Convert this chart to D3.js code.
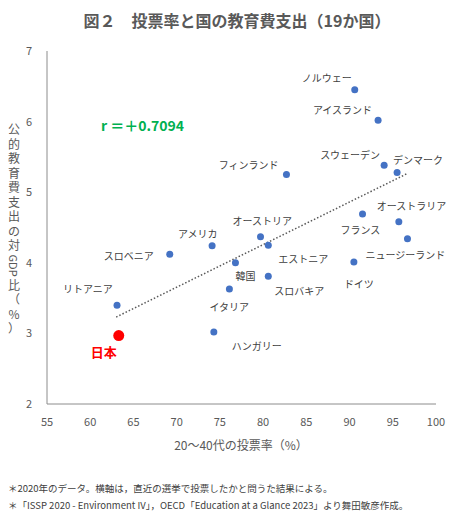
<!DOCTYPE html>
<html><head><meta charset="utf-8">
<script src="https://cdn.jsdelivr.net/npm/d3@7"></script>
<style>body{margin:0;background:#fff}text{font-family:"Noto Sans CJK JP","Noto Sans",sans-serif}</style>
</head><body><svg id="c" width="463" height="520"></svg>
<script>
const countries=["ノルウェー","アイスランド","スウェーデン","デンマーク","フィンランド","オーストラリア","フランス","ニュージーランド","ドイツ","オーストリア","アメリカ","エストニア","韓国","スロバキア","イタリア","スロベニア","リトアニア","ハンガリー","日本"];
const turnout=[90.6,93.3,94.0,95.5,82.7,95.7,91.5,96.7,90.5,79.7,74.1,80.6,76.8,80.6,76.1,69.2,63.1,74.3,63.3];
const eduSpend=[6.45,6.02,5.38,5.28,5.25,4.58,4.69,4.34,4.01,4.37,4.24,4.25,4.00,3.81,3.63,4.12,3.40,3.02,2.97];
const xTicks=[55,60,65,70,75,80,85,90,95,100];
const yTicks=[2,3,4,5,6,7];
const lab={"ノルウェー":[-3,-12,"end"],"アイスランド":[-6,-10,"end"],"スウェーデン":[-4,-10,"end"],"デンマーク":[-4,-12,"start"],"フィンランド":[-8,-10,"end"],"オーストラリア":[-22,-16,"start"],"フランス":[-22,16,"start"],"ニュージーランド":[-42,16,"start"],"ドイツ":[-10,22,"start"],"オーストリア":[-28,-16,"start"],"アメリカ":[-34,-12,"start"],"エストニア":[10,14,"start"],"韓国":[0,13,"start"],"スロバキア":[6,15,"start"],"イタリア":[-20,18,"start"],"スロベニア":[-66,2,"start"],"リトアニア":[-54,-16,"start"],"ハンガリー":[18,14,"start"]};
const svg=d3.select("#c");
const x=d3.scaleLinear().domain([55,100]).range([47,436]);
const y=d3.scaleLinear().domain([2,7]).range([404,51]);
svg.append("text").attr("x",237).attr("y",27).attr("text-anchor","middle").attr("font-size",16).attr("font-weight","bold").attr("fill","#595959").text("図２　投票率と国の教育費支出（19か国）");
svg.append("line").attr("x1",47).attr("x2",47).attr("y1",51).attr("y2",404).attr("stroke","#8c8c8c");
svg.append("line").attr("x1",47).attr("x2",436).attr("y1",404).attr("y2",404).attr("stroke","#8c8c8c");
xTicks.forEach(t=>svg.append("text").attr("x",x(t)).attr("y",426).attr("text-anchor","middle").attr("font-size",11).attr("fill","#595959").text(t));
yTicks.forEach(t=>svg.append("text").attr("x",32).attr("y",y(t)+4).attr("text-anchor","end").attr("font-size",11).attr("fill","#595959").text(t));
svg.append("text").attr("x",241).attr("y",450).attr("text-anchor","middle").attr("font-size",12).attr("fill","#595959").text("20～40代の投票率（%）");
const chars=["公","的","教","育","費","支","出","の","対","GDP","比","（","%","）"];
let yy=134;
chars.forEach(c=>{
  if(c==="GDP"){svg.append("text").attr("transform",`translate(9,${yy-10}) rotate(90)`).attr("font-size",11).attr("fill","#595959").text(c);yy+=25;}
  else{svg.append("text").attr("x",14).attr("y",yy).attr("text-anchor","middle").attr("font-size",12).attr("fill","#595959").text(c);yy+=14.5;}
});
const mx=d3.mean(turnout),my=d3.mean(eduSpend);
const b=d3.sum(turnout.map((v,i)=>(v-mx)*(eduSpend[i]-my)))/d3.sum(turnout.map(v=>(v-mx)**2)),a=my-b*mx;
svg.append("line").attr("x1",x(63)).attr("y1",y(a+b*63)).attr("x2",x(96.7)).attr("y2",y(a+b*96.7)).attr("stroke","#595959").attr("stroke-width",1.5).attr("stroke-dasharray","1.5,2");
svg.selectAll("circle").data(countries).join("circle").attr("cx",(d,i)=>x(turnout[i])).attr("cy",(d,i)=>y(eduSpend[i])).attr("r",d=>d==="日本"?5.5:3.5).attr("fill",d=>d==="日本"?"#ff0000":"#4472c4");
countries.forEach((c,i)=>{
  if(c==="日本"){svg.append("text").attr("x",x(turnout[i])-28).attr("y",y(eduSpend[i])+21).attr("font-size",13).attr("font-weight","bold").attr("fill","#ff0000").text(c);return;}
  const o=lab[c];
  svg.append("text").attr("x",x(turnout[i])+o[0]).attr("y",y(eduSpend[i])+o[1]+4).attr("text-anchor",o[2]).attr("font-size",10).attr("fill","#404040").text(c);
});
svg.append("text").attr("x",101).attr("y",131).attr("font-size",14).attr("font-weight","bold").attr("fill","#00b050").text("r ＝＋0.7094");
svg.append("text").attr("x",8).attr("y",492).attr("font-size",9.5).attr("fill","#404040").text("＊2020年のデータ。横軸は，直近の選挙で投票したかと問うた結果による。");
svg.append("text").attr("x",8).attr("y",509).attr("font-size",9.5).attr("fill","#404040").text("＊「ISSP 2020 - Environment IV」，OECD「Education at a Glance 2023」より舞田敏彦作成。");
</script></body></html>
